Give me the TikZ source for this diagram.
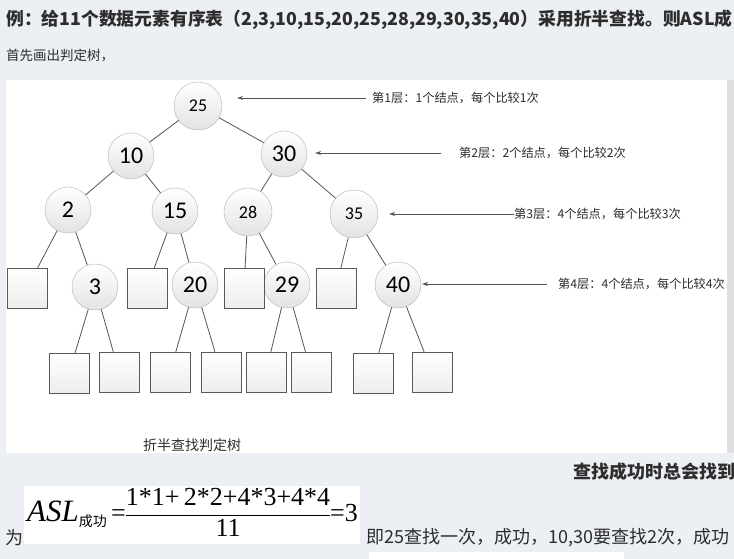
\documentclass[tikz,border=0pt]{standalone}
\usepackage{fontspec}
\setmainfont{Liberation Serif}
\newfontfamily\cjk{Noto Sans CJK SC}
\newfontfamily\calib{Carlito}
\newfontfamily\tnr{Liberation Serif}
\usetikzlibrary{arrows.meta}
\definecolor{bgcol}{RGB}{236,239,243}
\definecolor{txtcol}{RGB}{45,45,45}
\definecolor{edgecol}{RGB}{85,85,85}
\tikzset{
    keynode/.style={circle, draw=gray!60, top color=white, bottom color=gray!22,
        minimum size=46pt, inner sep=0pt, font=\calib\fontsize{24}{24}\selectfont},
    smallkey/.style={keynode, minimum size=48pt, font=\calib\fontsize{18}{18}\selectfont},
    extnode/.style={rectangle, draw=gray!70!black, top color=white, bottom color=gray!14,
        minimum size=40pt, inner sep=0pt},
    branch/.style={draw=edgecol, line width=0.8pt},
    levelnote/.style={anchor=west, inner sep=0pt, text=txtcol, font=\cjk\fontsize{12.2}{12.2}\selectfont},
    levelarrow/.style={draw=edgecol, line width=0.8pt, -{Stealth[length=6pt,width=4pt]}},
    pagetext/.style={anchor=west, inner sep=0pt, text=txtcol}
}
\begin{document}
\begin{tikzpicture}[x=1pt,y=-1pt]
    \useasboundingbox (0,0) rectangle (734,559);
    \clip (0,0) rectangle (734,559);
    \fill[bgcol] (0,0) rectangle (734,559);
    \fill[bgcol!85!gray] (727,80) rectangle (734,453);
    \fill[white] (6,80) rectangle (727,453);
    \fill[white] (24,486) rectangle (360,544);
    \fill[white] (369,552) rectangle (624,559);
    
    \node[pagetext, font=\cjk\bfseries\fontsize{17.8}{17.8}\selectfont] (title) at (6,20)
        {例：给11个数据元素有序表（2,3,10,15,20,25,28,29,30,35,40）采用折半查找。则ASL成};
    \node[pagetext, font=\cjk\fontsize{13.5}{13.5}\selectfont] (first) at (6,56) {首先画出判定树，};
    
    \node[smallkey] (n25) at (198,106) {25};
    \node[keynode] (n10) at (131,156) {10};
    \node[keynode] (n30) at (284,154) {30};
    \node[keynode] (n2) at (68,210) {2};
    \node[keynode] (n15) at (175,211) {15};
    \node[smallkey] (n28) at (248,212) {28};
    \node[smallkey] (n35) at (354,214) {35};
    \node[keynode] (n3) at (95,287) {3};
    \node[keynode] (n20) at (195,285) {20};
    \node[keynode] (n29) at (287,285) {29};
    \node[keynode] (n40) at (398,285) {40};
    
    \node[extnode] (s1) at (27,288) {};
    \node[extnode] (s2) at (147,288) {};
    \node[extnode] (s3) at (244,288) {};
    \node[extnode] (s4) at (336,288) {};
    
    \node[extnode] (q1) at (69,373) {};
    \node[extnode] (q2) at (119,372) {};
    \node[extnode] (q3) at (170,372) {};
    \node[extnode] (q4) at (221,372) {};
    \node[extnode] (q5) at (266,372) {};
    \node[extnode] (q6) at (311,372) {};
    \node[extnode] (q7) at (373,373) {};
    \node[extnode] (q8) at (432,372) {};
    
    \draw[branch] (n25) -- (n10) (n25) -- (n30)
    (n10) -- (n2) (n10) -- (n15)
    (n30) -- (n28) (n30) -- (n35)
    (n2) -- (s1) (n2) -- (n3)
    (n15) -- (s2) (n15) -- (n20)
    (n28) -- (s3) (n28) -- (n29)
    (n35) -- (s4) (n35) -- (n40)
    (n3) -- (q1) (n3) -- (q2)
    (n20) -- (q3) (n20) -- (q4)
    (n29) -- (q5) (n29) -- (q6)
    (n40) -- (q7) (n40) -- (q8);
    
    \node[levelnote] (l1) at (372,98) {第1层：1个结点，每个比较1次};
    \node[levelnote] (l2) at (459,153) {第2层：2个结点，每个比较2次};
    \node[levelnote] (l3) at (514,214) {第3层：4个结点，每个比较3次};
    \node[levelnote] (l4) at (558,284) {第4层：4个结点，每个比较4次};
    
    \draw[levelarrow] ([xshift=-6pt]l1.west) -- ([xshift=15pt]l1.west -| n25.east);
    \draw[levelarrow] ([xshift=-18pt]l2.west) -- ([xshift=8pt]l2.west -| n30.east);
    \draw[levelarrow] (l3.west) -- ([xshift=11pt]l3.west -| n35.east);
    \draw[levelarrow] ([xshift=-11pt]l4.west) -- ([xshift=1pt]l4.west -| n40.east);
    
    \node[text=txtcol, font=\cjk\fontsize{14}{14}\selectfont] (cap) at (192,445) {折半查找判定树};
    
    \node[pagetext, font=\cjk\bfseries\fontsize{18}{18}\selectfont] (found) at (573,472) {查找成功时总会找到};
    \node[pagetext, font=\cjk\fontsize{18}{18}\selectfont] (wei) at (5,538) {为};
    \node[pagetext, font=\cjk\fontsize{18}{18}\selectfont] (ji) at (366,538)
        {即25查找一次，成功，10,30要查找2次，成功};
    
    \node[anchor=west, inner sep=0pt, text=black] (asl) at (27,515)
        {\tnr\fontsize{26}{28}\selectfont\setlength{\arrayrulewidth}{1pt}\renewcommand{\arraystretch}{1.05}%
        {\fontsize{31}{31}\selectfont\textit{ASL}}\raisebox{-5pt}{\cjk\fontsize{14}{14}\selectfont 成功}\,=\begin{tabular}{@{}c@{}}1*1+\,2*2+4*3+4*4\\\hline 11\end{tabular}=3};
\end{tikzpicture}
\end{document}
